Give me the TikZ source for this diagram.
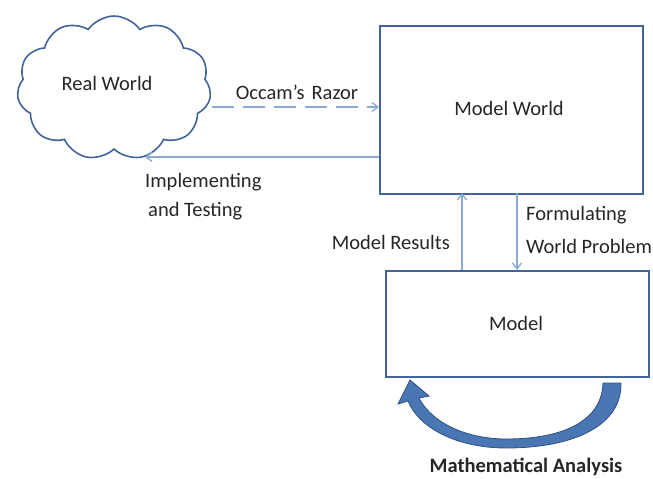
\documentclass[tikz,border=0pt]{standalone}
\usepackage{fontspec}
\setmainfont{Carlito}
\usetikzlibrary{shapes.symbols,arrows.meta}
\definecolor{boxline}{HTML}{41659A}
\definecolor{arrline}{HTML}{8AAAD6}
\definecolor{bigarrow}{HTML}{4A76B4}
\definecolor{bigarrowdark}{HTML}{2F5286}
\tikzset{
  lbl/.style={font=\fontsize{20.5}{24}\selectfont, text=black!85, inner sep=0pt},
  mbox/.style={draw=boxline, line width=1.8pt, fill=white},
  conn/.style={draw=arrline, line width=1.3pt, -{Straight Barb[length=6pt,width=9pt]}},
}
\begin{document}
\begin{tikzpicture}[x=1pt,y=-1pt]
\useasboundingbox (0,0) rectangle (653,479);
% cloud
\node[cloud, cloud puffs=11, cloud puff arc=110, aspect=1.35, draw=boxline, line width=1.6pt,
      minimum width=194pt, minimum height=144pt, inner sep=0pt] (real) at (114,88) {};
\node[lbl] (realtxt) at (107,83) {Real World};
% boxes
\node[mbox, minimum width=263pt, minimum height=168pt, anchor=north west, inner sep=0pt] (mw) at (379,25) {};
\node[lbl] (mwtxt) at (509,108) {Model World};
\node[mbox, minimum width=263pt, minimum height=106pt, anchor=north west, inner sep=0pt] (m) at (385,270) {};
\node[lbl] (mtxt) at (516,323) {Model};
% connector endpoints
\coordinate (occS) at (212,107);
\coordinate (occE) at (mw.west |- 0,107);
\coordinate (impS) at (mw.west |- 0,157);
\coordinate (impE) at (145,157);
\draw[conn, dash pattern=on 22pt off 9pt] (occS) -- (occE);
\draw[conn] (impS) -- (impE);
\node[lbl, anchor=center] (occtxt) at (297,92) {Occam's\,\,Razor};
\node[lbl, anchor=west] (imp1) at (145,182) {Implementing};
\node[lbl, anchor=west] (imp2) at (148,211) {and Testing};
% vertical connectors
\coordinate (mrS) at (462,270);
\coordinate (mrE) at (462,193);
\coordinate (fwS) at (517,193);
\coordinate (fwE) at (517,270);
\draw[conn] (mrS) -- (mrE);
\draw[conn] (fwS) -- (fwE);
\node[lbl, anchor=east] (mrtxt) at (450,242) {Model Results};
\node[lbl, anchor=west] (fw1) at (526,215) {Formulating};
\node[lbl, anchor=west] (fw2) at (526,246) {World Problem};
% curved big arrow
\path[fill=bigarrow, draw=bigarrowdark, line width=0.8pt]
  (621,383) .. controls (622,425) and (575,448) .. (506,448)
  .. controls (460,448) and (420,430) .. (408,401)
  -- (398,404) -- (410,380) -- (429,396) -- (419,398)
  .. controls (433,425) and (470,439) .. (506,439)
  .. controls (565,439) and (602,420) .. (603,383) -- cycle;
\node[lbl, font=\bfseries\fontsize{20.5}{24}\selectfont, anchor=center] (ma) at (526,467) {Mathematical Analysis};
\end{tikzpicture}
\end{document}
